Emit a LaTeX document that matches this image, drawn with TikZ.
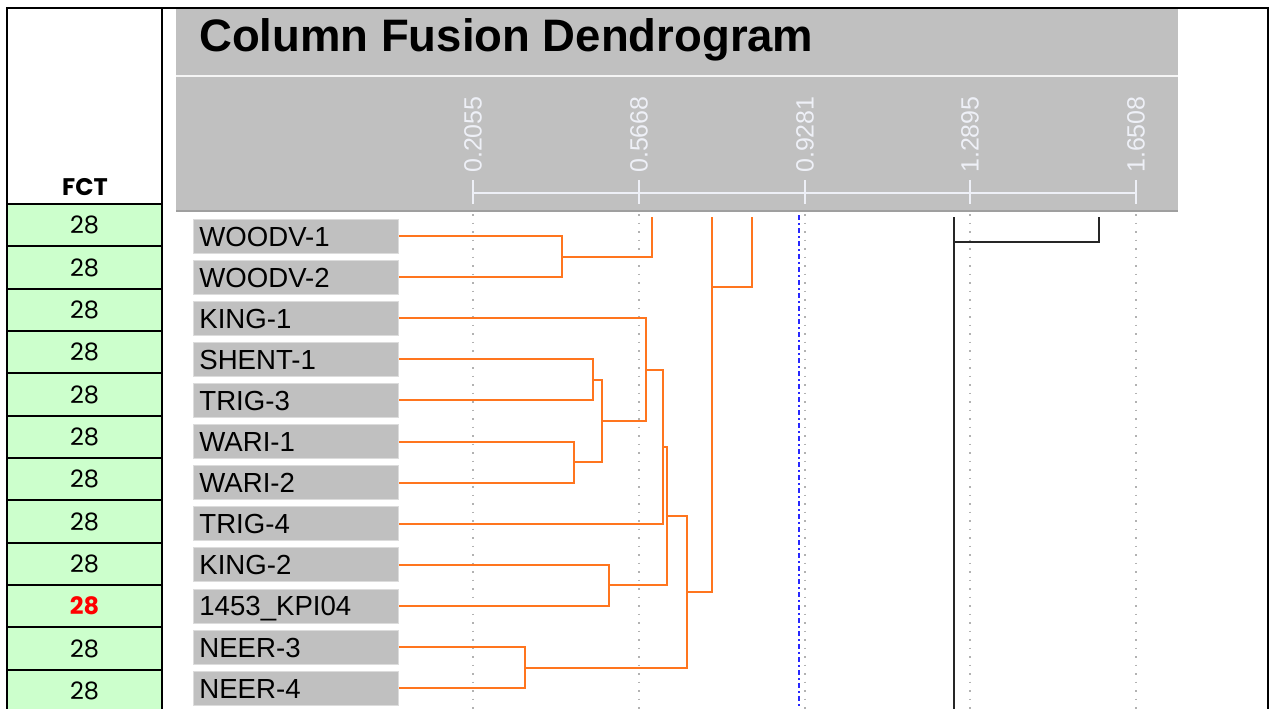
\documentclass[tikz,border=0pt]{standalone}
\usepackage{fontspec}
\setmainfont{Liberation Sans}
\newfontfamily\gothic{Poppins}
\definecolor{panelgray}{RGB}{192,192,192}
\definecolor{cellgreen}{RGB}{204,255,204}
\definecolor{branch}{RGB}{255,117,30}
\definecolor{axiswhite}{RGB}{238,240,247}
\definecolor{cutblue}{RGB}{40,40,255}

\begin{document}
\begin{tikzpicture}[x=1pt, y=-1pt,
	cell/.style={draw, line width=2, fill=cellgreen, minimum width=155, minimum height=42.33, inner sep=0, font=\gothic\fontsize{24}{24}\selectfont},
	leaf/.style={fill=panelgray, draw=panelgray!55!white, line width=0.8, anchor=west, text width=193, align=left, inner xsep=6, inner ysep=0, text height=27, text depth=7, font=\fontsize{27.6}{28}\selectfont},
	axlab/.style={rotate=90, anchor=west, inner sep=0, text=axiswhite, font=\fontsize{25}{25}\selectfont},
	gridline/.style={gray!60, line width=1.5, dash pattern=on 1.5 off 7},
	cutline/.style={cutblue, line width=2, dash pattern=on 5 off 3 on 1.5 off 3.5},
	br/.style={branch, line width=2},
	blk/.style={black!85, line width=2}]
	\useasboundingbox (0,0) rectangle (1270,709);
	\clip (0,0) rectangle (1270,709);
	\fill[panelgray] (176,8) rectangle (1178,212);
	\draw[white!92!gray, line width=2] (176,76) -- (1178,76);
	\draw[gray!75, line width=1.5] (176,211) -- (1178,211);
	\node[anchor=base west, inner sep=0, font=\bfseries\fontsize{45.5}{46}\selectfont] (title) at (199,52) {Column Fusion Dendrogram};
	\draw[axiswhite, line width=1.5] (473,193) -- (1136,193);
	\foreach \x/\v [count=\k] in {473/0.2055, 639/0.5668, 805/0.9281, 970/1.2895, 1136/1.6508} {
		\draw[axiswhite, line width=1.5] (\x,180) -- (\x,204);
		\node[axlab] (ax\k) at (\x,173) {\v};
		\draw[gridline] (\x,214) -- (\x,709);
	}
	\draw[cutline] (799,215) -- (799,709);
	\draw[line width=2] (7,709) -- (7,8) -- (1268,8) -- (1268,709);
	\draw[line width=2] (162,8) -- (162,709);
	\node[anchor=base, inner sep=0, font=\gothic\bfseries\fontsize{24}{24}\selectfont] (fct) at (85,195) {FCT};
	\foreach \i in {0,...,11} {\node[cell] (c\i) at (84.5,{225.2+42.33*\i}) {\ifnum\i=9 \textcolor{red}{\bfseries 28}\else 28\fi};}
	\foreach \n/\t [count=\i from 0] in {w1/WOODV-1, w2/WOODV-2, k1/KING-1, s1/SHENT-1, t3/TRIG-3, wa1/WARI-1, wa2/WARI-2, t4/TRIG-4, k2/KING-2, kp/1453\_KPI04, n3/NEER-3, n4/NEER-4} {\node[leaf] (\n) at (193,{236+41.1*\i}) {\t};}
	\coordinate (mW) at (562,256.5); \coordinate (mST) at (593,379.9); \coordinate (mWA) at (574,462.1);
	\coordinate (mA) at (602,421); \coordinate (mB) at (646,369.6); \coordinate (mC) at (663,446.6);
	\coordinate (mK) at (609,585.4); \coordinate (mD) at (667,516); \coordinate (mN) at (525,667.6);
	\coordinate (mE) at (687,591.8); \coordinate (mF) at (712,287); \coordinate (mH) at (954,242);
	\coordinate (tW) at (652,217); \coordinate (tF) at (712,217); \coordinate (tG) at (752,217);
	\coordinate (tH) at (954,217); \coordinate (bH) at (954,709); \coordinate (tI) at (1099,217);
	\draw[br] (w1.east) -| (mW) |- (w2.east);
	\draw[br] (mW) -| (tW);
	\draw[br] (s1.east) -| (mST) |- (t3.east);
	\draw[br] (wa1.east) -| (mWA) |- (wa2.east);
	\draw[br] (mST) -| (mA) |- (mWA);
	\draw[br] (k1.east) -| (mB) |- (mA);
	\draw[br] (mB) -| (mC) |- (t4.east);
	\draw[br] (k2.east) -| (mK) |- (kp.east);
	\draw[br] (mC) -| (mD) |- (mK);
	\draw[br] (n3.east) -| (mN) |- (n4.east);
	\draw[br] (mD) -| (mE) |- (mN);
	\draw[br] (tF) |- (mE);
	\draw[br] (mF) -| (tG);
	\draw[blk] (tH) -- (bH);
	\draw[blk] (mH) -| (tI);
\end{tikzpicture}
\end{document}
